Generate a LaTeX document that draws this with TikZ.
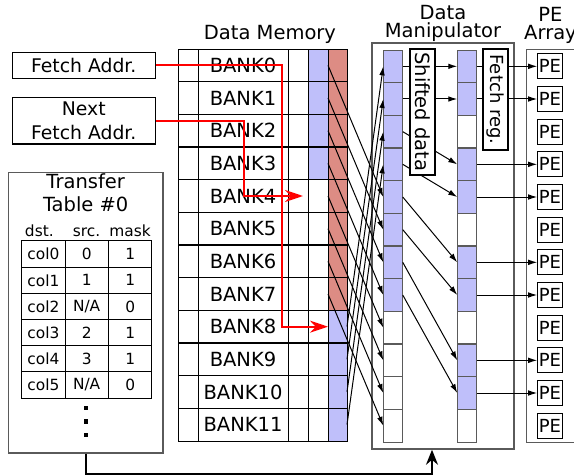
\documentclass[tikz,border=0pt]{standalone}
\usepackage{fontspec}
\setmainfont{DejaVu Sans}
\usepackage{xcolor}
\usepackage{tikz}
\usetikzlibrary{arrows.meta, positioning, calc}

\definecolor{bankblue}{RGB}{191,191,250}
\definecolor{bankred}{RGB}{221,140,132}
\definecolor{framegray}{RGB}{90,90,90}

\begin{document}
\begin{tikzpicture}[
    x=0.5pt, y=-0.5pt,
    txt/.style={font=\fontsize{9.75}{11.7}\selectfont},
    cell/.style={rectangle, draw=black, line width=0.5pt, minimum width=10pt, minimum height=16.33pt, inner sep=0pt, outer sep=0pt},
    mcell/.style={cell, draw=framegray, minimum width=9.75pt},
    lbox/.style={rectangle, draw=black, line width=0.6pt, fill=white, inner sep=0pt, align=center, font=\fontsize{9.4}{11.7}\selectfont},
    tcell/.style={rectangle, draw=black, line width=0.5pt, minimum width=21.65pt, minimum height=13.1pt, inner sep=0pt, font=\fontsize{7.7}{9}\selectfont},
    thead/.style={inner sep=0pt, font=\fontsize{7.7}{9}\selectfont},
    pebox/.style={rectangle, draw=black, line width=0.5pt, fill=white, minimum width=12.3pt, minimum height=12.5pt, inner sep=0pt, font=\fontsize{9}{10}\selectfont},
    title/.style={inner sep=0pt, align=center, font=\fontsize{9.75}{9}\selectfont},
    vdot/.style={rectangle, fill=black, inner sep=0pt, minimum size=2.3pt},
    frame/.style={draw=framegray, line width=0.75pt},
    redarrow/.style={draw=red, line width=1pt, -{Stealth[length=9pt,width=6pt]}},
    wire/.style={line width=0.5pt, -{Latex[length=4.5pt,width=2.8pt]}},
    thickarrow/.style={line width=1pt, -{Stealth[length=7.5pt,width=6pt]}}
]
    \useasboundingbox (0,0) rectangle (574,476);

    % Data Memory banks
    \foreach \i in {0,...,11} {
        \pgfmathsetmacro\y{49+32.667*(\i+0.5)}
        \ifnum\i<4 \def\cfill{bankblue}\else\def\cfill{white}\fi
        \ifnum\i<8 \def\dfill{bankred}\else\def\dfill{bankblue}\fi
        \node[cell] (ma-\i) at (188,\y) {};
        \node[cell, minimum width=45pt, txt] (bank-\i) at (243,\y) {BANK\i};
        \node[cell] (mb-\i) at (298,\y) {};
        \node[cell, fill=\cfill] (mc-\i) at (318,\y) {};
        \node[cell, fill=\dfill, minimum width=9.5pt] (md-\i) at (337.5,\y) {};
    }
    \node[title, above=2.5pt of bank-0, xshift=13.5pt] (memtitle) {Data Memory};

    % Data Manipulator
    \node[rectangle, frame, minimum width=71pt, minimum height=203pt] (manip) at (443,246) {};
    \node[title, above=0pt of manip] (maniptitle) {Data\\Manipulator};

    % PE Array
    \node[rectangle, minimum width=23.5pt, minimum height=196pt, inner sep=0pt] (pearray) at (550.5,246) {};
    \draw[frame] (pearray.north east) -- (pearray.north west) -- (pearray.south west) -- (pearray.south east);
    \node[title, above=2.8pt of pearray] (petitle) {PE\\Array};

    % Shifted data / fetch register columns and PEs
    \foreach \i in {0,...,11} {
        \pgfmathsetmacro\y{50+32.667*(\i+0.5)}
        \ifnum\i<8 \def\sfill{bankblue}\else\def\sfill{white}\fi
        \pgfmathtruncatemacro\k{mod(\i,3)}
        \ifnum\k=2 \def\ffill{white}\else\def\ffill{bankblue}\fi
        \node[mcell, fill=\sfill] (s-\i) at (393,\y) {};
        \node[mcell, fill=\ffill] (f-\i) at (467,\y) {};
        \node[pebox] (pe-\i) at (550,\y) {PE};
    }

    % Banks to shifted data
    \foreach \i in {0,...,7} {
        \pgfmathtruncatemacro\j{\i+4}
        \draw[wire] (md-\i.west) -- (s-\j.west);
    }
    \foreach \i in {8,...,11} {
        \pgfmathtruncatemacro\j{\i-8}
        \draw[wire] (md-\i.east) -- (s-\j.west);
    }

    % Shifted data to fetch register
    \foreach \i in {0,...,7} {
        \pgfmathtruncatemacro\j{\i+int(\i/2)}
        \draw[wire] (s-\i.east) -- (f-\j.west);
    }

    % Fetch register to PEs
    \foreach \i in {0,1,3,4,6,7,9,10}
        \draw[wire] (f-\i.east) -- (pe-\i.west);

    % Column labels
    \node[lbox, rotate=-90, minimum width=63pt, minimum height=12.5pt, font=\fontsize{9.75}{11}\selectfont] (shifted) at (422.5,112) {Shifted data};
    \node[lbox, rotate=-90, minimum width=50.5pt, minimum height=12.5pt, font=\fontsize{9}{11}\selectfont] (fetchreg) at (495.5,99.5) {Fetch reg.};

    % Fetch addresses
    \node[lbox, minimum width=71.5pt, minimum height=12.8pt] (fetch) at (83.8,65.5) {Fetch Addr.};
    \node[lbox, minimum width=71.5pt, minimum height=23.2pt] (nextfetch) at (83.8,120.8) {Next\\Fetch Addr.};
    \draw[redarrow] (fetch.east) -- ++(126,0) |- (md-8.west);
    \draw[redarrow] (nextfetch.east) -- ++(88,0) |- ([xshift=-2.5pt]mc-4.west);

    % Transfer table
    \node[lbox, draw=framegray, minimum width=77.3pt, minimum height=140.2pt] (ttable) at (85.7,312.8) {};
    \node[title, below=0.8pt of ttable.north, font=\fontsize{9.75}{11.5}\selectfont] (ttitle) {Transfer\\Table \#0};
    \foreach \d/\s/\m [count=\r from 0] in {col0/0/1, col1/1/1, col2/{N/A}/0, col3/2/1, col4/3/1, col5/{N/A}/0} {
        \pgfmathsetmacro\y{241+26.2*(\r+0.5)}
        \node[tcell] (t-\r-0) at (43.35,\y) {\d};
        \node[tcell] (t-\r-1) at (86.65,\y) {\s};
        \node[tcell] (t-\r-2) at (130.15,\y) {\m};
    }
    \node[thead, above=1.5pt of t-0-0, xshift=-2pt] (hdst) {dst.};
    \node[thead, above=1.5pt of t-0-1] (hsrc) {src.};
    \node[thead, above=1.5pt of t-0-2] (hmask) {mask};
    \foreach \k in {0,1,2}
        \node[vdot] (dot-\k) at (86,{408+13.5*\k}) {};

    % Table to manipulator
    \draw[thickarrow] (ttable.south) -- ++(0,20) -| ([xshift=-5.5pt]manip.south);

\end{tikzpicture}
\end{document}
